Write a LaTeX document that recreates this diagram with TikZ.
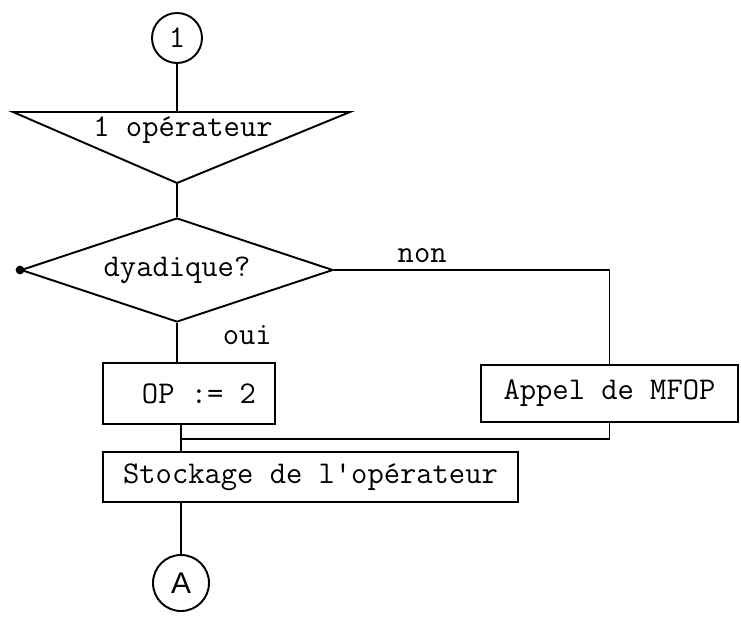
\documentclass[tikz,border=0pt]{standalone}
\usepackage{fontspec}
\newfontfamily\handfont{Liberation Sans}
\usetikzlibrary{shapes.geometric, positioning, calc}

\begin{document}
\begin{tikzpicture}[line width=1.1pt,
  txt/.style={font=\ttfamily\fontsize{18}{21}\selectfont},
  box/.style={txt, draw, rectangle, inner sep=0pt},
  decision/.style={txt, draw, diamond, aspect=3, inner sep=0pt,
    minimum width=6.24cm, minimum height=2.08cm},
  conn/.style={draw, circle, inner sep=0pt}]
\useasboundingbox (0,0) rectangle (14.82,-12.36);

% Entry connector
\node[conn, txt, minimum size=1.0cm] (one) at (3.54,-0.76) {1};

% Input of the operator
\coordinate (intl) at (0.26,-2.24);
\coordinate (intr) at (7.0,-2.24);
\coordinate (intop) at (3.54,-2.24);
\coordinate (inapex) at (3.54,-3.66);
\draw (intl) -- (intr) -- (inapex) -- cycle;
\node[txt] (intext) at (3.66,-2.6) {1 opérateur};
\draw (one) -- (intop);

% Test
\node[decision] (dyad) at (3.54,-5.4) {dyadique?};
\fill (dyad.west) circle (2.5pt);
\draw (inapex) -- (dyad.north);

% Both cases
\node[box, minimum width=3.44cm, minimum height=1.22cm] (opset) at (3.78,-7.87) {\hspace{0.4cm}OP := 2};
\node[box, minimum width=5.14cm, minimum height=1.14cm] (mfop) at (12.19,-7.87) {Appel de MFOP};
\draw (dyad.east) -| node[txt, pos=0.16, above] {non} (mfop.north);
\draw (dyad.south) -- node[txt, pos=0.32, right=0.78cm] {oui} (dyad.south |- opset.north);

% Storage and exit
\node[box, minimum width=8.3cm, minimum height=1.0cm] (stock) at (6.21,-9.54) {Stockage de l'opérateur};
\node[conn, minimum size=1.12cm, font=\handfont\fontsize{17}{20}\selectfont] (exitA) at (3.62,-11.66) {A};
\coordinate (join) at ($(exitA |- stock.north)+(0,0.24)$);
\draw (opset.south -| exitA) -- (stock.north -| exitA);
\draw (mfop.south) |- (join);
\draw (stock.south -| exitA) -- (exitA);
\end{tikzpicture}
\end{document}
